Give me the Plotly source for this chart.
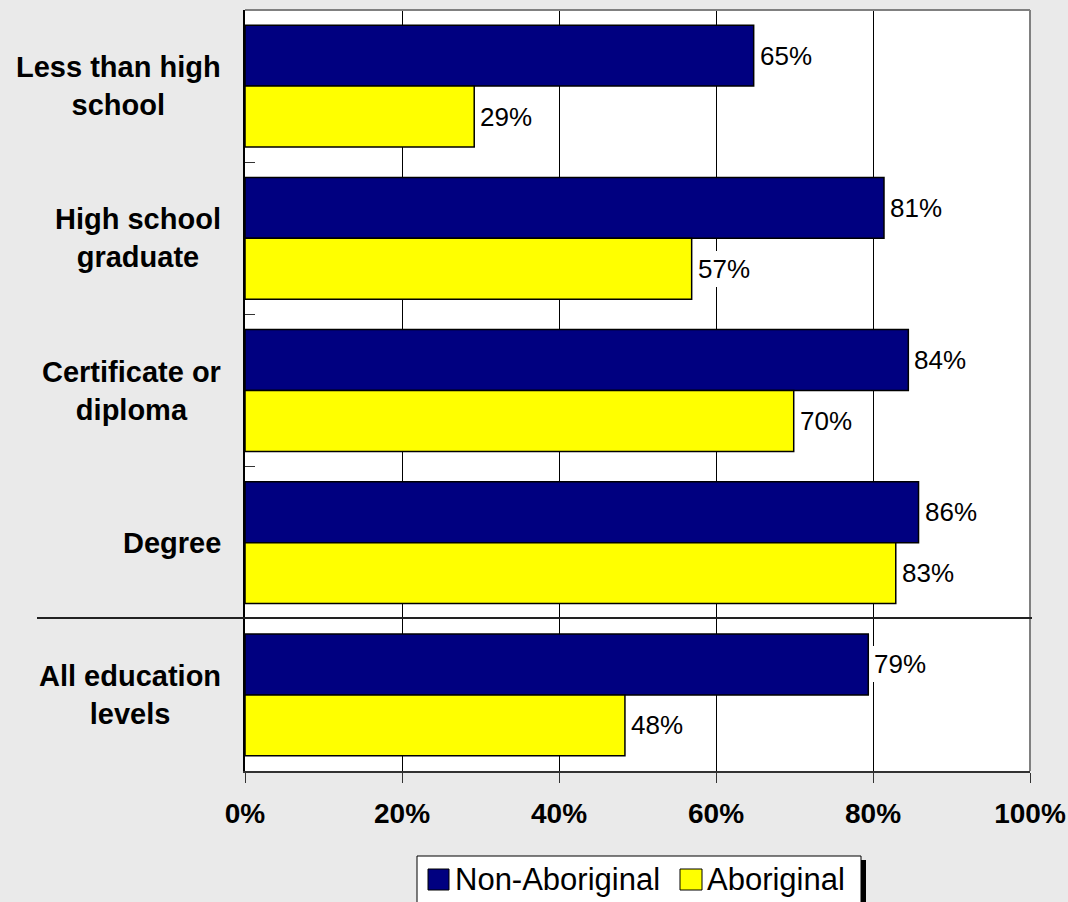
import plotly.graph_objects as go

# ---- data ----
categories = ["Less than high school", "High school graduate", "Certificate or diploma",
              "Degree", "All education levels"]
category_labels = ["Less than high<br>school", "High school<br>graduate", "Certificate or<br>diploma",
                   "Degree", "All education<br>levels"]
non_aboriginal = [64.8, 81.4, 84.5, 85.8, 79.4]
aboriginal = [29.2, 56.9, 69.9, 82.9, 48.4]
series_names = ["Non-Aboriginal", "Aboriginal"]
x_ticks = [0, 20, 40, 60, 80, 100]

# ---- layout constants ----
W, H = 1068, 902
L, R, T, B = 245, 1030, 10, 771
FONT = "Arial, Liberation Sans, sans-serif"
NAVY = "#000080"
YELLOW = "#FFFF00"
BG = "#EAEAEA"
BARGAP = 0.2
BAND = (B - T) / len(categories)          # pixel height of a category band
HALF_OFFSET = BAND * (1 - BARGAP) / 4      # pixel offset of each bar centre from band centre


def px_x(p):
    return (p - L) / (R - L)


def px_y(p):
    return (B - p) / (B - T)


fig = go.Figure()
for name, vals, col in [(series_names[0], non_aboriginal, NAVY), (series_names[1], aboriginal, YELLOW)]:
    fig.add_trace(go.Bar(
        y=categories, x=vals, name=name, orientation="h",
        marker=dict(color=col, line=dict(color="black", width=1.5)),
        showlegend=False,
    ))

shapes = []
annotations = []

# value labels with white background (like the original), placed at data coordinates
for vals, shift in [(non_aboriginal, HALF_OFFSET), (aboriginal, -HALF_OFFSET)]:
    for cat, v in zip(categories, vals):
        annotations.append(dict(
            x=v, xref="x", y=cat, yref="y", xanchor="left", yanchor="middle",
            xshift=3, yshift=shift, text=f"{round(v)}%", showarrow=False,
            bgcolor="white", borderpad=3, borderwidth=0,
            font=dict(family=FONT, size=26, color="black"),
        ))

# category labels (centered lines, block right-aligned)
for cat, lab in zip(categories, category_labels):
    annotations.append(dict(
        x=px_x(223), xref="paper", xanchor="right", align="center",
        y=cat, yref="y", yanchor="middle", text=lab, showarrow=False,
        font=dict(family=FONT, size=29, color="black", weight="bold"),
    ))

# gray top/right borders
shapes.append(dict(type="line", xref="paper", yref="paper", x0=0, x1=1, y0=1, y1=1,
                   line=dict(color="#808080", width=2), layer="above"))
shapes.append(dict(type="line", xref="paper", yref="paper", x0=1, x1=1, y0=0, y1=1,
                   line=dict(color="#808080", width=2), layer="above"))

# separator between groups
shapes.append(dict(type="line", xref="paper", yref="paper", x0=px_x(37), x1=px_x(1032),
                   y0=px_y(618), y1=px_y(618), line=dict(color="#222222", width=2), layer="above"))

# custom legend
shapes.append(dict(type="rect", xref="paper", yref="paper", x0=px_x(861), x1=px_x(866),
                   y0=px_y(860), y1=px_y(910), fillcolor="black", line=dict(width=0)))
shapes.append(dict(type="rect", xref="paper", yref="paper", x0=px_x(417), x1=px_x(861),
                   y0=px_y(856), y1=px_y(910), fillcolor="white", line=dict(color="black", width=1)))
for (x0, x1, tx), name, col in zip([(428, 449, 453), (680, 702, 705)], series_names, [NAVY, YELLOW]):
    shapes.append(dict(type="rect", xref="paper", yref="paper", x0=px_x(x0), x1=px_x(x1),
                       y0=px_y(869), y1=px_y(890), fillcolor=col, line=dict(color="black", width=1)))
    annotations.append(dict(x=px_x(tx), xref="paper", xanchor="left", y=px_y(879), yref="paper",
                            yanchor="middle", text=name, showarrow=False,
                            font=dict(family=FONT, size=31, color="black")))

fig.update_layout(
    width=W, height=H,
    margin=dict(l=L, r=W - R, t=T, b=H - B, pad=0, autoexpand=False),
    paper_bgcolor=BG, plot_bgcolor="white",
    barmode="group", bargap=BARGAP, bargroupgap=0,
    shapes=shapes, annotations=annotations,
    showlegend=False,
    xaxis=dict(range=[0, 100], tickvals=x_ticks, ticktext=[f"{v}%" for v in x_ticks],
               ticks="outside", ticklen=10, tickcolor="#333333", tickwidth=1,
               ticklabelstandoff=6, automargin=False,
               showline=True, linecolor="#333333", linewidth=2,
               showgrid=True, gridcolor="black", gridwidth=1, zeroline=False,
               tickfont=dict(family=FONT, size=28, color="black", weight="bold"),
               fixedrange=True),
    yaxis=dict(type="category", autorange="reversed", categoryorder="array", categoryarray=categories,
               showticklabels=False, ticks="inside", tickson="boundaries", ticklen=10,
               tickcolor="#333333", tickwidth=1, automargin=False,
               showline=True, linecolor="black", linewidth=2, showgrid=False, zeroline=False,
               fixedrange=True),
)

fig.write_html("out.html", config={"displayModeBar": False},
               post_script="document.body.style.margin='0';document.body.style.overflow='hidden';")
